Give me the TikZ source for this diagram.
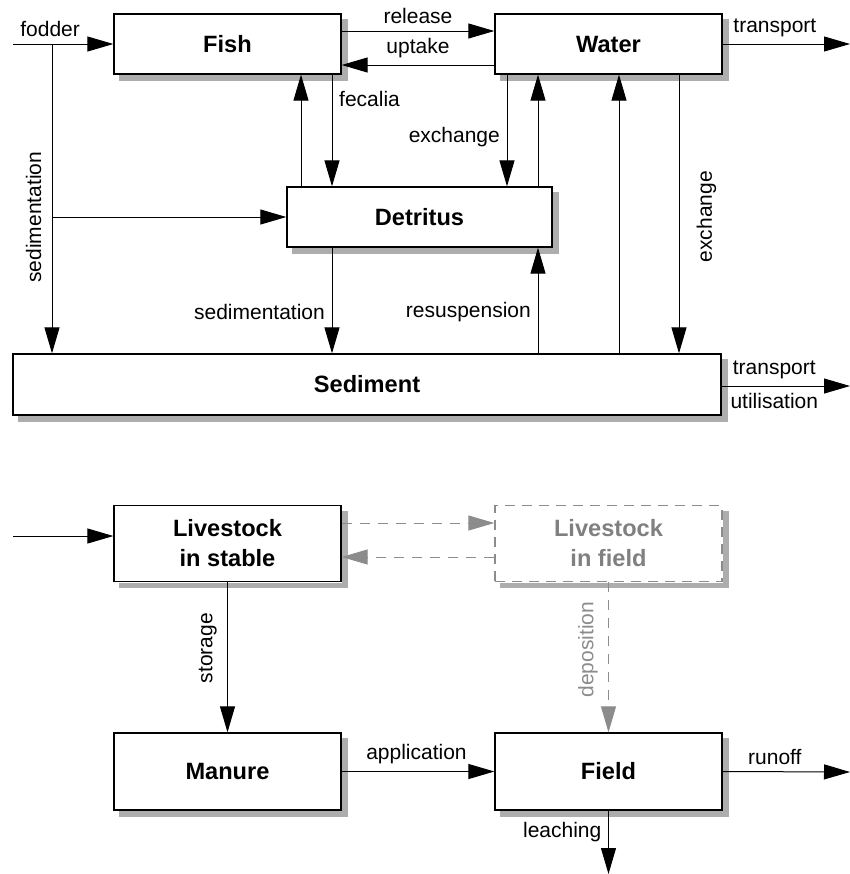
\documentclass[tikz,border=0pt]{standalone}
\usepackage{fontspec}
\setmainfont{Liberation Sans}
\usetikzlibrary{arrows.meta}

\def\placeLanes{%
\coordinate (l1) at (52,0);
\coordinate (l2) at (301,0);
\coordinate (l3) at (332,0);
\coordinate (l4) at (507,0);
\coordinate (l5) at (538,0);
\coordinate (l6) at (619,0);
\coordinate (l7) at (679,0);
\coordinate (r1) at (0,31);
\coordinate (r2) at (0,65);
\coordinate (r3) at (0,523);
\coordinate (r4) at (0,557);
\coordinate (in1) at (13,44);
\coordinate (in2) at (13,536);
\coordinate (out1) at (850,44);
\coordinate (out2) at (850,386);
\coordinate (out3) at (850,772);
\coordinate (out4) at (608.5,874);
}
% shadow along the right and lower edge of a box
\def\castShadow#1{%
\draw[boxShadow] ([xshift=1.7pt, yshift=-3pt]#1.north east) -- ([xshift=1.7pt, yshift=-1.7pt]#1.south east)
  -- ([xshift=3pt, yshift=-1.7pt]#1.south west);
}

\begin{document}
\begin{tikzpicture}[x=0.5pt, y=-0.5pt]

% styles
\tikzstyle{box}=[rectangle, draw, line width=0.65pt, fill=white, align=center, inner sep=0pt,
  font=\fontsize{11.8}{15}\selectfont\bfseries]
\tikzstyle{boxGhost}=[box, draw=black!45, text=black!50, dash pattern=on 5pt off 3.5pt]
\tikzstyle{boxShadow}=[draw=black!32, line width=2.8pt, line cap=butt, line join=miter]
\tikzstyle{flow}=[-{Triangle[length=13pt, width=7.5pt]}, line width=0.5pt]
\tikzstyle{flowGhost}=[flow, draw=black!45, dash pattern=on 5pt off 4pt]
\tikzstyle{textLine}=[rectangle, text=black, font=\fontsize{10.5}{12}\selectfont]
\tikzstyle{textGhost}=[textLine, text=black!45]

\useasboundingbox (0,0) rectangle (850,874);
\placeLanes

% aquaculture
\node[box, minimum width=113.5pt, minimum height=30pt] (fish) at (227.5,44) {Fish};
\node[box, minimum width=113.5pt, minimum height=30pt] (water) at (608.5,44) {Water};
\node[box, minimum width=132.5pt, minimum height=30pt] (detritus) at (419.5,217) {Detritus};
\node[box, minimum width=354pt, minimum height=30.5pt] (sediment) at (367,384.5) {Sediment};

% livestock
\node[box, minimum width=113.5pt, minimum height=38pt] (stable) at (227.5,543.5) {Livestock\\in stable};
\node[boxGhost, minimum width=113.5pt, minimum height=38pt] (stockField) at (608.5,543.5) {Livestock\\in field};
\node[box, minimum width=113.5pt, minimum height=38.5pt] (manure) at (227.5,771.5) {Manure};
\node[box, minimum width=113.5pt, minimum height=38.5pt] (field) at (608.5,771.5) {Field};

% shadows
\castShadow{fish}
\castShadow{water}
\castShadow{detritus}
\castShadow{sediment}
\castShadow{stable}
\castShadow{stockField}
\castShadow{manure}
\castShadow{field}

\draw[flow] (in1) -- node[textLine, above, pos=0.37] {fodder} (fish.west);
\draw[flow] (in1 -| l1) -- node[textLine, rotate=90, anchor=south, outer sep=2pt, pos=0.56] {sedimentation} (sediment.north -| l1);
\draw[flow] (l1 |- detritus.west) -- (detritus.west);
\draw[flow] (fish.east |- r1) -- node[textLine, above] {release} (water.west |- r1);
\draw[flow] (water.west |- r2) -- node[textLine, above] {uptake} (fish.east |- r2);
\draw[flow] (water.east) -- node[textLine, above, pos=0.41] {transport} (out1);

\draw[flow] (detritus.north -| l2) -- (fish.south -| l2);
\draw[flow] (fish.south -| l3) -- node[textLine, right, pos=0.22] {fecalia} (detritus.north -| l3);
\draw[flow] (water.south -| l4) -- node[textLine, left, pos=0.56] {exchange} (detritus.north -| l4);
\draw[flow] (detritus.north -| l5) -- (water.south -| l5);
\draw[flow] (sediment.north -| l6) -- (water.south -| l6);
\draw[flow] (water.south -| l7) -- node[textLine, rotate=90, anchor=north, outer sep=5.5pt, pos=0.51] {exchange} (sediment.north -| l7);
\draw[flow] (detritus.south -| l3) -- node[textLine, left, pos=0.61] {sedimentation} (sediment.north -| l3);
\draw[flow] (sediment.north -| l5) -- node[textLine, left, pos=0.39] {resuspension} (detritus.south -| l5);
\draw[flow] (sediment.east |- out2) -- node[textLine, above, pos=0.41] {transport}
  node[textLine, below, pos=0.41] {utilisation} (out2);

\draw[flow] (in2) -- (stable.west |- in2);
\draw[flowGhost] (stable.east |- r3) -- (stockField.west |- r3);
\draw[flowGhost] (stockField.west |- r4) -- (stable.east |- r4);
\draw[flow] (stable.south) -- node[textLine, rotate=90, anchor=south, outer sep=2pt, pos=0.44] {storage} (manure.north);
\draw[flowGhost] (stockField.south) -- node[textGhost, rotate=90, anchor=south, outer sep=2pt, pos=0.45] {deposition} (field.north);
\draw[flow] (manure.east) -- node[textLine, above, pos=0.49] {application} (field.west);
\draw[flow] (field.east) -- node[textLine, above, pos=0.41] {runoff} (out3);
\draw[flow] (field.south) -- node[textLine, left, pos=0.34] {leaching} (out4);

\end{tikzpicture}
\end{document}
